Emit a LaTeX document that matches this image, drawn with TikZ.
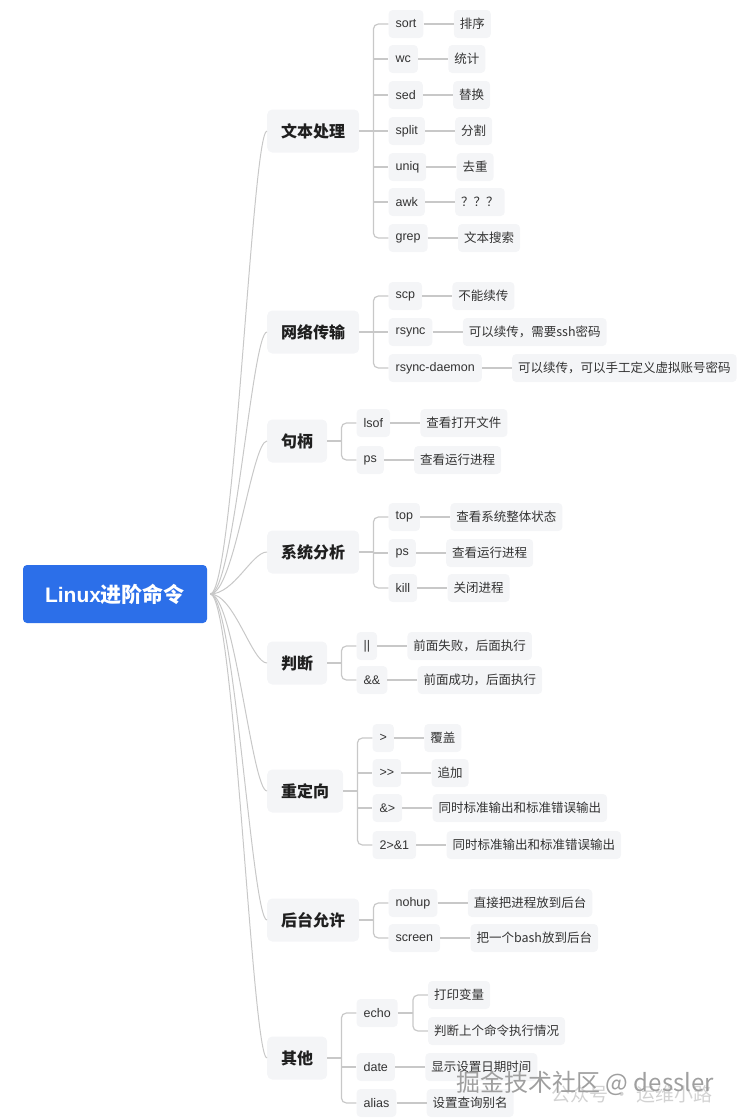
\documentclass[tikz,border=0pt]{standalone}
\usepackage{fontspec}
\setmainfont{Liberation Sans}
\newfontfamily\cjk{Noto Sans CJK SC}
\usetikzlibrary{positioning}

\definecolor{rootblue}{HTML}{2C6FE9}
\definecolor{boxgray}{HTML}{F4F5F7}
\definecolor{linegray}{HTML}{C8C8C8}
\definecolor{leaftext}{HTML}{333333}
\definecolor{topictext}{HTML}{1F1F1F}

\tikzset{
  rootnode/.style={fill=rootblue, rounded corners=4pt, text=white,
    font=\fontsize{21}{24}\selectfont\bfseries, inner xsep=22pt, minimum height=58pt},
  topic/.style={fill=boxgray, rounded corners=5pt, text=topictext, anchor=west,
    font=\cjk\fontsize{16}{19}\selectfont\bfseries, inner xsep=14pt, minimum height=43pt},
  cmd/.style={fill=boxgray, rounded corners=4pt, text=leaftext, anchor=west,
    font=\fontsize{12.5}{15}\selectfont, inner xsep=7pt, minimum height=28pt},
  leaf/.style={cmd, font=\cjk\fontsize{12.5}{15}\selectfont, inner xsep=6pt},
  link/.style={draw=linegray, line width=1.2pt},
  bracket/.style={link, rounded corners=5pt},
  branch/.style={draw=linegray, line width=1pt},
}

\begin{document}
\begin{tikzpicture}[x=1pt, y=-1pt]
  \useasboundingbox (0,0) rectangle (752,1120);

  % ---- root ----
  \node[rootnode] (root) at (115,594) {Linux{\cjk 进阶命令}};
  \coordinate[right=3pt of root] (hub);

  % ---- 文本处理 ----
  \node[topic] (t1) at (267,131) {文本处理};
  \coordinate[right=14pt of t1] (b1);
  \coordinate[right=15pt of b1] (s1);
  \foreach \y/\cmdtext/\desc [count=\i] in {24/sort/排序, 59/wc/统计, 95/sed/替换,
      131/split/分割, 167/uniq/去重, 202/awk/？？？, 238/grep/文本搜索} {
    \node[cmd] (t1c\i) at (s1 |- 0,\y) {\cmdtext};
    \node[leaf, right=30pt of t1c\i] (t1d\i) {\desc};
    \draw[link] (t1c\i) -- (t1d\i);
  }
  \draw[link] (t1) -- (b1);
  \draw[bracket] (t1c1.west) -| (b1 |- t1c7.west) -- (t1c7.west);
  \foreach \i in {2,...,6} \draw[link] (b1 |- t1c\i.west) -- (t1c\i.west);

  % ---- 网络传输 ----
  \node[topic] (t2) at (267,332) {网络传输};
  \coordinate[right=14pt of t2] (b2);
  \coordinate[right=15pt of b2] (s2);
  \foreach \y/\cmdtext/\desc [count=\i] in {296/scp/不能续传, 332/rsync/可以续传，需要ssh密码,
      368/rsync-daemon/可以续传，可以手工定义虚拟账号密码} {
    \node[cmd] (t2c\i) at (s2 |- 0,\y) {\cmdtext};
    \node[leaf, right=30pt of t2c\i] (t2d\i) {\desc};
    \draw[link] (t2c\i) -- (t2d\i);
  }
  \draw[link] (t2) -- (b2);
  \draw[bracket] (t2c1.west) -| (b2 |- t2c3.west) -- (t2c3.west);
  \draw[link] (b2 |- t2c2.west) -- (t2c2.west);

  % ---- 句柄 ----
  \node[topic] (t3) at (267,441) {句柄};
  \coordinate[right=14pt of t3] (b3);
  \coordinate[right=15pt of b3] (s3);
  \foreach \y/\cmdtext/\desc [count=\i] in {423/lsof/查看打开文件, 460/ps/查看运行进程} {
    \node[cmd] (t3c\i) at (s3 |- 0,\y) {\cmdtext};
    \node[leaf, right=30pt of t3c\i] (t3d\i) {\desc};
    \draw[link] (t3c\i) -- (t3d\i);
  }
  \draw[link] (t3) -- (b3);
  \draw[bracket] (t3c1.west) -| (b3 |- t3c2.west) -- (t3c2.west);

  % ---- 系统分析 ----
  \node[topic] (t4) at (267,552) {系统分析};
  \coordinate[right=14pt of t4] (b4);
  \coordinate[right=15pt of b4] (s4);
  \foreach \y/\cmdtext/\desc [count=\i] in {517/top/查看系统整体状态, 553/ps/查看运行进程,
      588/kill/关闭进程} {
    \node[cmd] (t4c\i) at (s4 |- 0,\y) {\cmdtext};
    \node[leaf, right=30pt of t4c\i] (t4d\i) {\desc};
    \draw[link] (t4c\i) -- (t4d\i);
  }
  \draw[link] (t4) -- (b4);
  \draw[bracket] (t4c1.west) -| (b4 |- t4c3.west) -- (t4c3.west);
  \draw[link] (b4 |- t4c2.west) -- (t4c2.west);

  % ---- 判断 ----
  \node[topic] (t5) at (267,663) {判断};
  \coordinate[right=14pt of t5] (b5);
  \coordinate[right=15pt of b5] (s5);
  \foreach \y/\cmdtext/\desc [count=\i] in {646/||/前面失败，后面执行, 680/\&\&/前面成功，后面执行} {
    \node[cmd] (t5c\i) at (s5 |- 0,\y) {\cmdtext};
    \node[leaf, right=30pt of t5c\i] (t5d\i) {\desc};
    \draw[link] (t5c\i) -- (t5d\i);
  }
  \draw[link] (t5) -- (b5);
  \draw[bracket] (t5c1.west) -| (b5 |- t5c2.west) -- (t5c2.west);

  % ---- 重定向 ----
  \node[topic] (t6) at (267,791) {重定向};
  \coordinate[right=14pt of t6] (b6);
  \coordinate[right=15pt of b6] (s6);
  \foreach \y/\cmdtext/\desc [count=\i] in {738/>/覆盖, 773/>{}>/追加,
      808/\&>/同时标准输出和标准错误输出, 845/2>\&1/同时标准输出和标准错误输出} {
    \node[cmd] (t6c\i) at (s6 |- 0,\y) {\cmdtext};
    \node[leaf, right=30pt of t6c\i] (t6d\i) {\desc};
    \draw[link] (t6c\i) -- (t6d\i);
  }
  \draw[link] (t6) -- (b6);
  \draw[bracket] (t6c1.west) -| (b6 |- t6c4.west) -- (t6c4.west);
  \foreach \i in {2,3} \draw[link] (b6 |- t6c\i.west) -- (t6c\i.west);

  % ---- 后台允许 ----
  \node[topic] (t7) at (267,920) {后台允许};
  \coordinate[right=14pt of t7] (b7);
  \coordinate[right=15pt of b7] (s7);
  \foreach \y/\cmdtext/\desc [count=\i] in {903/nohup/直接把进程放到后台, 938/screen/把一个bash放到后台} {
    \node[cmd] (t7c\i) at (s7 |- 0,\y) {\cmdtext};
    \node[leaf, right=30pt of t7c\i] (t7d\i) {\desc};
    \draw[link] (t7c\i) -- (t7d\i);
  }
  \draw[link] (t7) -- (b7);
  \draw[bracket] (t7c1.west) -| (b7 |- t7c2.west) -- (t7c2.west);

  % ---- 其他 ----
  \node[topic] (t8) at (267,1058) {其他};
  \coordinate[right=14pt of t8] (b8);
  \coordinate[right=15pt of b8] (s8);
  \foreach \y/\cmdtext [count=\i] in {1013/echo, 1067/date, 1103/alias}
    \node[cmd] (t8c\i) at (s8 |- 0,\y) {\cmdtext};
  \draw[link] (t8) -- (b8);
  \draw[bracket] (t8c1.west) -| (b8 |- t8c3.west) -- (t8c3.west);
  \draw[link] (b8 |- t8c2.west) -- (t8c2.west);
  % echo has two leaves
  \coordinate[right=15pt of t8c1] (e1);
  \coordinate[right=15pt of e1] (es);
  \node[leaf] (t8e1) at (es |- 0,995) {打印变量};
  \node[leaf] (t8e2) at (es |- 0,1031) {判断上个命令执行情况};
  \draw[link] (t8c1) -- (e1);
  \draw[bracket] (t8e1.west) -| (e1 |- t8e2.west) -- (t8e2.west);
  \node[leaf, right=30pt of t8c2] (t8d2) {显示设置日期时间};
  \node[leaf, right=30pt of t8c3] (t8d3) {设置查询别名};
  \draw[link] (t8c2) -- (t8d2);
  \draw[link] (t8c3) -- (t8d3);

  % ---- root branches ----
  \foreach \i in {1,...,8}
    \draw[branch] (hub) .. controls +(24,0) and +(-15,0) .. (t\i.west);

  % ---- watermark ----
  \node[text=gray!35, font=\cjk\fontsize{19}{22}\selectfont, anchor=west] (wm2) at (548,1094) {公众号 · 运维小路};
  \node[text=gray!75, font=\cjk\fontsize{24}{27}\selectfont, anchor=west] (wm1) at (453,1083) {掘金技术社区 @ dessler};
\end{tikzpicture}
\end{document}
